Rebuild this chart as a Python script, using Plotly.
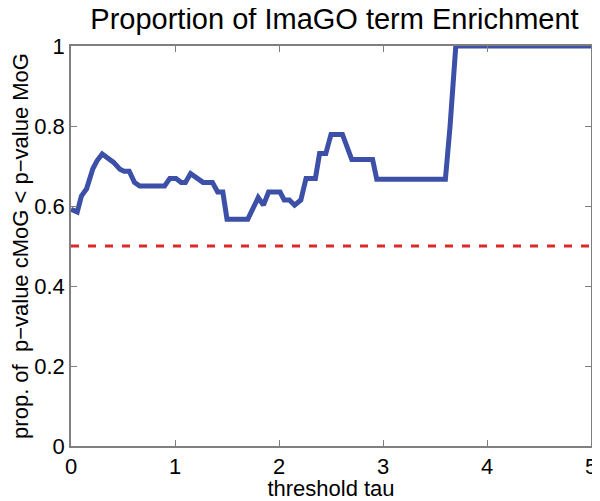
import plotly.graph_objects as go

# threshold tau vs proportion of p-value cMoG < p-value MoG
tau = [0.0, 0.06, 0.10, 0.15, 0.21, 0.25, 0.30, 0.37, 0.41, 0.47, 0.51, 0.56,
       0.61, 0.66, 0.90, 0.95, 1.01, 1.06, 1.10, 1.15, 1.21, 1.27, 1.36, 1.41,
       1.46, 1.50, 1.70, 1.80, 1.85, 1.90, 2.01, 2.05, 2.10, 2.15, 2.21, 2.26,
       2.35, 2.39, 2.45, 2.50, 2.61, 2.70, 2.90, 2.94, 3.60, 3.645, 3.70, 5.0]
prop = [0.592, 0.585, 0.625, 0.643, 0.693, 0.713, 0.730, 0.716, 0.709, 0.692,
        0.687, 0.687, 0.659, 0.650, 0.650, 0.669, 0.669, 0.659, 0.659, 0.681,
        0.669, 0.659, 0.659, 0.635, 0.635, 0.567, 0.567, 0.621, 0.602, 0.635,
        0.635, 0.615, 0.615, 0.602, 0.615, 0.669, 0.669, 0.731, 0.731, 0.779,
        0.779, 0.716, 0.716, 0.667, 0.667, 0.80, 1.0, 1.0]
baseline_x = [0, 5]
baseline_y = [0.5, 0.5]

x_ticks = [0, 1, 2, 3, 4, 5]
y_ticks = [0, 0.2, 0.4, 0.6, 0.8, 1]
y_tick_text = ["0", "0.2", "0.4", "0.6", "0.8", "1"]

fig = go.Figure()

fig.add_trace(go.Scatter(x=baseline_x, y=baseline_y, mode="lines",
                         line=dict(color="#d92b2b", width=3, dash="8px,9px"),
                         showlegend=False))
fig.add_trace(go.Scatter(x=tau, y=prop, mode="lines",
                         line=dict(color="#3c50a8", width=5),
                         showlegend=False))

axis_style = dict(
    showgrid=False, zeroline=False, automargin=False,
    showline=True, linecolor="#7f7f7f", linewidth=1.5, mirror="ticks",
    ticks="inside", ticklen=6, tickcolor="#7f7f7f", tickwidth=1,
    tickfont=dict(family="Liberation Sans, Arial", size=22, color="black"),
)

# page body has an 8px margin, so the figure is 8px smaller than the window
fig.update_layout(
    width=592, height=493,
    margin=dict(l=63, r=9, t=38, b=55),
    paper_bgcolor="white", plot_bgcolor="white",
    font=dict(family="Liberation Sans, Arial", color="black"),
    title=dict(text="Proportion of ImaGO term Enrichment",
               x=0.5515, xanchor="center", y=0.979, yanchor="middle",
               font=dict(size=29, color="black")),
    xaxis=dict(range=[0, 5], tickvals=x_ticks,
               title=dict(text="threshold tau", font=dict(size=22), standoff=4),
               **axis_style),
    yaxis=dict(range=[0, 1], tickvals=y_ticks, ticktext=y_tick_text,
               title=dict(text="prop. of  p\u2212value cMoG < p\u2212value MoG",
                          font=dict(size=22), standoff=5),
               **axis_style),
)

fig.write_html("out.html")
